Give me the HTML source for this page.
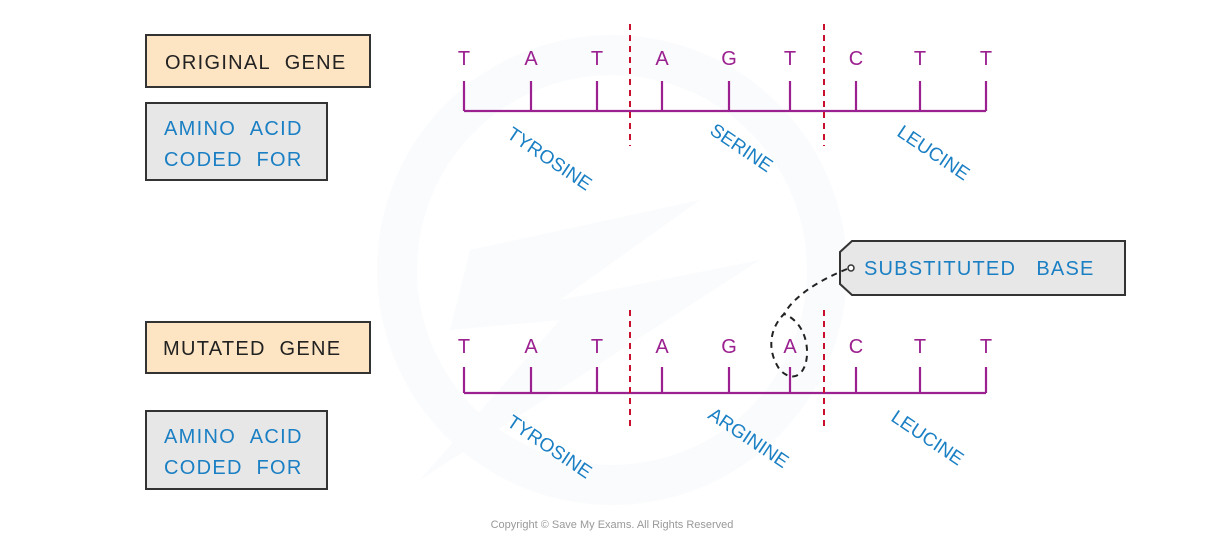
<!DOCTYPE html>
<html><head><style>
html,body{margin:0;padding:0;background:#fff;}
svg{display:block;}
text{font-family:"Liberation Sans",sans-serif;}
</style></head><body>
<svg width="1226" height="555" viewBox="0 0 1226 555" xmlns="http://www.w3.org/2000/svg">
<!-- faint watermark -->
<circle cx="612" cy="270" r="215" fill="none" stroke="#f9fbfd" stroke-width="40"/>
<polygon points="470,250 700,200 560,300 760,260 420,480 560,320 450,330" fill="#f9fbfd"/>

<!-- boxes -->
<g stroke="#333" stroke-width="2">
<rect x="146" y="35" width="224" height="52" fill="#fde4c2"/>
<rect x="146" y="103" width="181" height="77" fill="#e7e7e8"/>
<rect x="146" y="322" width="224" height="51" fill="#fde4c2"/>
<rect x="146" y="411" width="181" height="78" fill="#e7e7e8"/>
</g>
<g font-size="20" letter-spacing="1.3">
<text x="165" y="69" fill="#222">ORIGINAL&#160;&#160;GENE</text>
<text x="164" y="135" fill="#1a7fc3">AMINO&#160;&#160;ACID</text>
<text x="164" y="166" fill="#1a7fc3">CODED&#160;&#160;FOR</text>
<text x="163" y="355" fill="#222">MUTATED&#160;&#160;GENE</text>
<text x="164" y="443" fill="#1a7fc3">AMINO&#160;&#160;ACID</text>
<text x="164" y="474" fill="#1a7fc3">CODED&#160;&#160;FOR</text>
</g>

<g stroke="#9b2090" stroke-width="2.2" fill="none">
<path d="M464 111H986 M464 81V111 M531 81V111 M597 81V111 M662 81V111 M729 81V111 M790 81V111 M856 81V111 M920 81V111 M986 81V111"/>
<path d="M464 393H986 M464 367V393 M531 367V393 M597 367V393 M662 367V393 M729 367V393 M790 367V393 M856 367V393 M920 367V393 M986 367V393"/>
</g>
<g fill="#9b2090" font-size="20" text-anchor="middle">
<text x="464" y="65">T</text><text x="531" y="65">A</text><text x="597" y="65">T</text>
<text x="662" y="65">A</text><text x="729" y="65">G</text><text x="790" y="65">T</text>
<text x="856" y="65">C</text><text x="920" y="65">T</text><text x="986" y="65">T</text>
<text x="464" y="353">T</text><text x="531" y="353">A</text><text x="597" y="353">T</text>
<text x="662" y="353">A</text><text x="729" y="353">G</text><text x="790" y="353">A</text>
<text x="856" y="353">C</text><text x="920" y="353">T</text><text x="986" y="353">T</text>
</g>
<g stroke="#c8102e" stroke-width="2" stroke-dasharray="6,5">
<path d="M630 24V146 M824 24V146 M630 310V430 M824 310V430"/>
</g>
<g fill="#1a7fc3" font-size="19" text-anchor="middle">
<text transform="translate(546,164) rotate(34)">TYROSINE</text>
<text transform="translate(738,153) rotate(34)">SERINE</text>
<text transform="translate(930,158) rotate(34)">LEUCINE</text>
<text transform="translate(546,452) rotate(34)">TYROSINE</text>
<text transform="translate(745,443) rotate(34)">ARGININE</text>
<text transform="translate(924,443) rotate(34)">LEUCINE</text>
</g>

<path d="M852 241H1125V295H852L840 284V252Z" fill="#e7e7e8" stroke="#333" stroke-width="2"/>
<circle cx="851" cy="268" r="3" fill="#fff" stroke="#333" stroke-width="1.5"/>
<text x="864" y="275" fill="#1a7fc3" font-size="20" letter-spacing="1.2">SUBSTITUTED&#160;&#160;&#160;BASE</text>
<path d="M847 269 C820 280 795 295 784 314 C770 328 766 350 780 370 C795 385 808 372 807 350 C806 330 795 318 784 314" fill="none" stroke="#222" stroke-width="2" stroke-dasharray="6,5"/>

<text x="612" y="528" fill="#999" font-size="11" text-anchor="middle">Copyright © Save My Exams. All Rights Reserved</text>
</svg>
</body></html>
